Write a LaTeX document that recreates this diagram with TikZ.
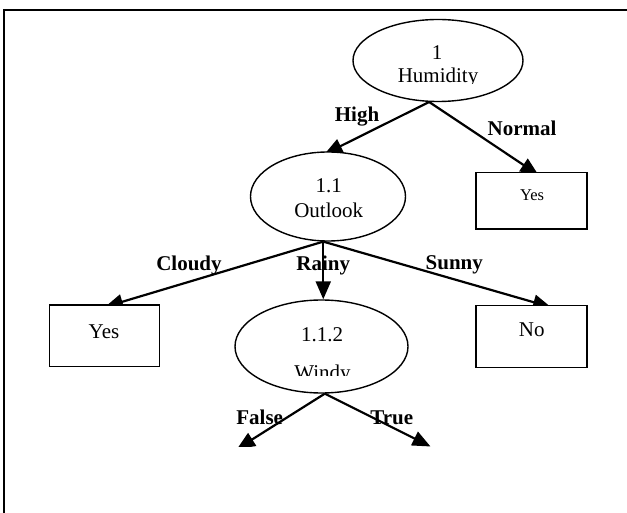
\documentclass[tikz,border=0pt]{standalone}
\usepackage{fontspec}
\setmainfont{Liberation Serif}
\usetikzlibrary{shapes.geometric,arrows.meta,calc,backgrounds}
\begin{document}
\begin{tikzpicture}[x=1pt,y=-1pt,
  ell/.style={draw, ellipse, fill=white, line width=1.4pt, inner sep=0pt},
  leaf/.style={draw, rectangle, fill=white, line width=1.6pt, inner sep=0pt},
  txt/.style={anchor=base, inner sep=0pt, font=\fontsize{21}{25}\selectfont},
  lab/.style={anchor=base, inner sep=0pt, font=\fontsize{21}{25}\selectfont\bfseries},
  conn/.style={line width=2.2pt, -{Triangle[length=18pt,width=15pt]}}]

\useasboundingbox (0,0) rectangle (627,513);
\draw[line width=2pt] (4.3,513) -- (4.3,10) -- (627,10);

% decision nodes
\node[ell, minimum width=170pt, minimum height=82pt] (e1) at (438,60.5) {};
\node[ell, minimum width=155pt, minimum height=89pt] (e11) at (328,196.5) {};
\node[ell, minimum width=173pt, minimum height=93pt] (e112) at (321.5,346.5) {};
% leaves
\node[leaf, minimum width=111pt, minimum height=56.6pt] (yr) at (531.5,201) {};
\node[leaf, minimum width=111pt, minimum height=61.6pt] (no) at (531.5,336.5) {};
\node[leaf, minimum width=110pt, minimum height=61.7pt] (yl) at (104.3,335.8) {};

% texts
\node[txt] (t1a) at (437,60) {1};
\begin{scope}
  \clip (340,20) rectangle (530,83.4);
  \node[txt] (t1b) at (438,82.6) {Humidity};
\end{scope}
\node[txt] (t11a) at (328.7,192.3) {1.1};
\node[txt] (t11b) at (328.7,217.3) {Outlook};
\node[txt] (t112a) at (322,341.7) {1.1.2};
\begin{scope}
  \clip (240,350) rectangle (400,375);
  \node[txt] (t112b) at (322.5,379) {Windy};
\end{scope}
\node[txt, font=\fontsize{16.5}{20}\selectfont] (tyr) at (532,201) {Yes};
\node[txt] (tno) at (531.8,337) {No};
\node[txt] (tyl) at (104,338) {Yes};

% edge labels
\node[lab] (lh) at (357,122) {High};
\node[lab] (ln) at (522,135.6) {Normal};
\node[lab] (lc) at (189,270.6) {Cloudy};
\node[lab] (lr) at (323.3,270.6) {Rainy};
\node[lab] (ls) at (454.3,269.2) {Sunny};
\node[lab] (lf) at (259.7,424) {False};
\node[lab] (lt) at (391.7,424) {True};

\coordinate (fe) at (237,449);
\coordinate (te) at (430.5,446.5);

\begin{scope}[on background layer]
  \fill[white] (0,0) rectangle (627,513);
  \draw[conn] (e1.258) -- ($(e11.north)+(-3.5,2.8)$);
  \draw[conn] (e1.258) -- ($(yr.north)+(6.9,3)$);
  \draw[conn] (e11.264) -- ($(yl.north)+(0.7,2.8)$);
  \draw[conn] (e11.264) -- (e11.264 |- e112.north);
  \draw[conn] (e11.264) -- ($(no.north)+(19.5,2.3)$);
  \begin{scope}
    \clip (200,380) rectangle (460,446.3);
    \draw[conn] (e112.274) -- (fe);
    \draw[conn] (e112.274) -- (te);
  \end{scope}
\end{scope}
\end{tikzpicture}
\end{document}
